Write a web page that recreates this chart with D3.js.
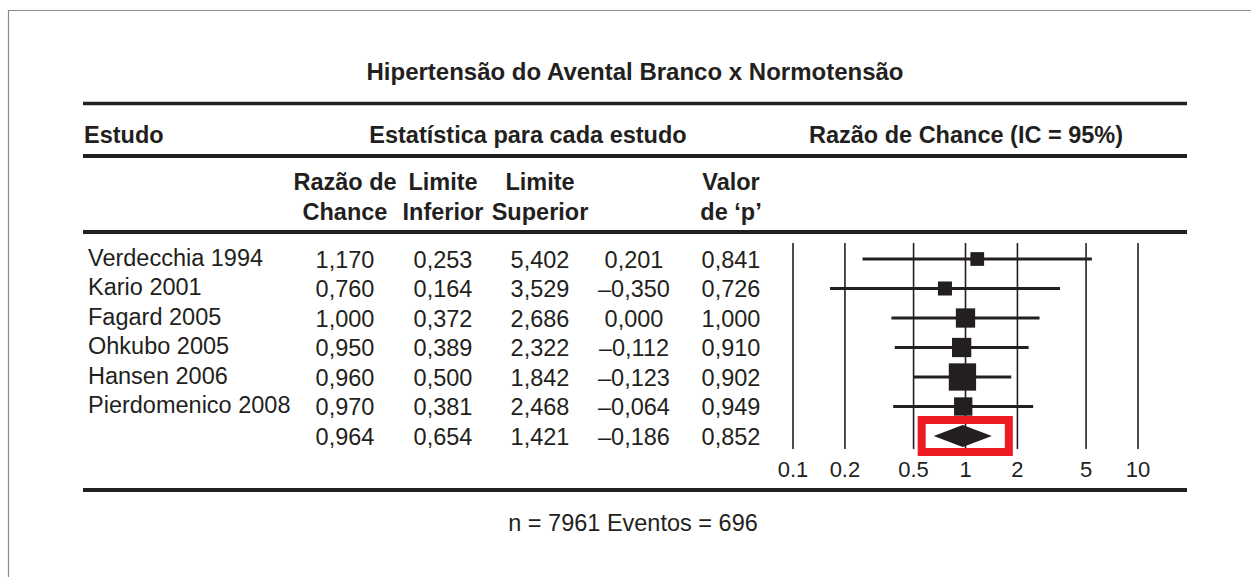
<!DOCTYPE html>
<html>
<head>
<meta charset="utf-8">
<script src="https://cdn.jsdelivr.net/npm/d3@7"></script>
<style>
  html, body { margin: 0; padding: 0; background: #fff; }
  svg { display: block; }
  text { font-family: "Liberation Sans", Arial, Helvetica, sans-serif; fill: #231f20; }
  .narrow { font-family: "Liberation Sans Narrow", "Arial Narrow", "Liberation Sans", sans-serif; font-stretch: condensed; }
</style>
</head>
<body>
<script>
// ---- Data ----
const title = "Hipertensão do Avental Branco x Normotensão";
const studies = ["Verdecchia 1994", "Kario 2001", "Fagard 2005", "Ohkubo 2005", "Hansen 2006", "Pierdomenico 2008"];
const oddsRatio = [1.170, 0.760, 1.000, 0.950, 0.960, 0.970];
const lowerLimit = [0.253, 0.164, 0.372, 0.389, 0.500, 0.381];
const upperLimit = [5.402, 3.529, 2.686, 2.322, 1.842, 2.468];
const zValue = [0.201, -0.350, 0.000, -0.112, -0.123, -0.064];
const pValue = [0.841, 0.726, 1.000, 0.910, 0.902, 0.949];
const weights = [8.5, 8.9, 16.8, 16.8, 33.7, 15.2]; // relative weight (%) -> marker area
const summaryOR = 0.964, summaryLower = 0.654, summaryUpper = 1.421, summaryZ = -0.186, summaryP = 0.852;
const tickValues = [0.1, 0.2, 0.5, 1, 2, 5, 10];
const tickLabels = ["0.1", "0.2", "0.5", "1", "2", "5", "10"];
const footer = "n = 7961 Eventos = 696";

// ---- Layout ----
const W = 1251, H = 577;
const ink = "#231f20";
const svg = d3.select("body").append("svg").attr("width", W).attr("height", H);

// outer frame (top and left edges visible)
svg.append("line").attr("x1", 8).attr("x2", W).attr("y1", 10.5).attr("y2", 10.5)
  .attr("stroke", "#8c8c8c").attr("stroke-width", 1.2);
svg.append("line").attr("x1", 8.5).attr("x2", 8.5).attr("y1", 10).attr("y2", H)
  .attr("stroke", "#8c8c8c").attr("stroke-width", 1.2);

// title
svg.append("text").attr("x", 635).attr("y", 80).attr("text-anchor", "middle")
  .attr("font-size", 24).attr("font-weight", "bold").text(title);

// horizontal rules
const ruleX1 = 83, ruleX2 = 1187;
[[103.5, 3.5], [156, 4], [232, 4], [490, 4]].forEach(([y, w]) => {
  svg.append("line").attr("x1", ruleX1).attr("x2", ruleX2).attr("y1", y).attr("y2", y)
    .attr("stroke", ink).attr("stroke-width", w);
});

// header row
const hdr = svg.append("g").attr("font-weight", "bold").attr("font-size", 23.5);
hdr.append("text").attr("x", 84).attr("y", 143).text("Estudo");
hdr.append("text").attr("x", 528).attr("y", 143).attr("text-anchor", "middle").text("Estatística para cada estudo");
hdr.append("text").attr("x", 966).attr("y", 143).attr("text-anchor", "middle").text("Razão de Chance (IC = 95%)");

const colX = [345, 443, 540, 634, 731];
const subHeaders = [["Razão de", "Chance"], ["Limite", "Inferior"], ["Limite", "Superior"], null, ["Valor", "de ‘p’"]];
subHeaders.forEach((lines, i) => {
  if (!lines) return;
  lines.forEach((t, j) => {
    hdr.append("text").attr("x", colX[i]).attr("y", 190 + j * 30).attr("text-anchor", "middle").text(t);
  });
});

// rows
const nRows = studies.length + 1;
const y = d3.scaleLinear().domain([0, nRows - 1]).range([259, 436]);
const loc = d3.formatLocale({ decimal: ",", thousands: ".", grouping: [3], currency: ["", ""], minus: "–" });
const f3 = loc.format(".3f");

const rows = studies.map((s, i) => ({
  name: s, or: oddsRatio[i], lo: lowerLimit[i], hi: upperLimit[i], z: zValue[i], p: pValue[i], w: weights[i], i
}));
const allRows = rows.concat([{ name: "", or: summaryOR, lo: summaryLower, hi: summaryUpper, z: summaryZ, p: summaryP, i: rows.length }]);

const body = svg.append("g").attr("font-size", 23.5);
body.selectAll("text.name").data(rows).join("text").attr("class", "name")
  .attr("x", 88).attr("y", d => y(d.i) + 6.5).text(d => d.name);

allRows.forEach(d => {
  const vals = [d.or, d.lo, d.hi, d.z, d.p];
  vals.forEach((v, k) => {
    body.append("text").attr("x", colX[k]).attr("y", y(d.i) + 8.5)
      .attr("text-anchor", "middle").text(f3(v));
  });
});

// forest plot
const x = d3.scaleLog().domain([0.1, 10]).range([793, 1138]);
const plot = svg.append("g");
plot.selectAll("line.grid").data(tickValues).join("line").attr("class", "grid")
  .attr("x1", d => x(d)).attr("x2", d => x(d)).attr("y1", 243).attr("y2", 449)
  .attr("stroke", ink).attr("stroke-width", 1.6);

plot.selectAll("text.tick").data(tickValues).join("text").attr("class", "tick narrow")
  .attr("x", d => x(d)).attr("y", 477).attr("text-anchor", "middle")
  .attr("font-size", 22).text((d, i) => tickLabels[i]);

plot.selectAll("line.ci").data(rows).join("line").attr("class", "ci")
  .attr("x1", d => x(d.lo)).attr("x2", d => x(d.hi))
  .attr("y1", d => y(d.i)).attr("y2", d => y(d.i))
  .attr("stroke", ink).attr("stroke-width", 3);

const size = d3.scaleSqrt().domain([0, 33.7]).range([0, 27.3]);
plot.selectAll("rect.box").data(rows).join("rect").attr("class", "box")
  .attr("x", d => x(d.or) - size(d.w) / 2).attr("y", d => y(d.i) - size(d.w) / 2)
  .attr("width", d => size(d.w)).attr("height", d => size(d.w))
  .attr("fill", ink);

const yS = y(rows.length);
plot.append("path")
  .attr("d", `M${x(summaryLower)},${yS}L${x(summaryOR)},${yS - 11}L${x(summaryUpper)},${yS}L${x(summaryOR)},${yS + 11}Z`)
  .attr("fill", ink);

// red highlight box around summary diamond
plot.append("rect")
  .attr("x", x(summaryLower) - 12).attr("y", yS - 16)
  .attr("width", x(summaryUpper) + 17 - (x(summaryLower) - 12)).attr("height", 32)
  .attr("fill", "none").attr("stroke", "#ed1c24").attr("stroke-width", 8);

// footer
svg.append("text").attr("x", 633).attr("y", 531).attr("text-anchor", "middle")
  .attr("font-size", 23.5).text(footer);
</script>
</body>
</html>
